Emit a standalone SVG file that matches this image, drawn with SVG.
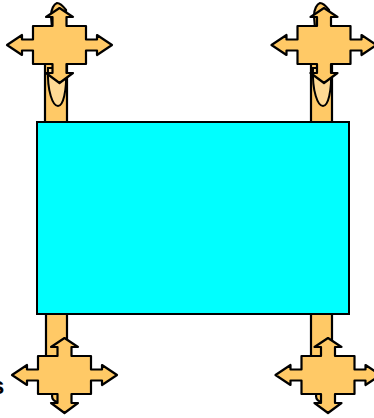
<svg xmlns="http://www.w3.org/2000/svg" width="374" height="418" viewBox="0 0 374 418">
<style>
.o{fill:#FFC966;stroke:#000;stroke-width:2.2;stroke-linejoin:round}
.u{fill:#FFDA94;stroke:#000;stroke-width:2}
.t{fill:#00FFFF;stroke:#000;stroke-width:2}
.lbl{font-family:"Liberation Sans",Arial,sans-serif;font-size:24px;font-weight:bold;fill:#000}
</style>
<defs>
<path id="cross" class="o" d="M0,-37 L13.5,-28 L7,-28 L7,-19 L26.5,-19 L26.5,-5.5 L37.5,-5.5 L37.5,-10 L52.5,0 L37.5,10 L37.5,5.5 L26.5,5.5 L26.5,19 L7,19 L7,28 L13.5,28 L0,38 L-13.5,28 L-7,28 L-7,19 L-26.5,19 L-26.5,5.5 L-37.5,5.5 L-37.5,10 L-52.5,0 L-37.5,-10 L-37.5,-5.5 L-26.5,-5.5 L-26.5,-19 L-7,-19 L-7,-28 L-13.5,-28 Z"/>
</defs>
<g id="connectors">
<rect class="o" x="45" y="60" width="22" height="62"/>
<rect class="o" x="311" y="60" width="21" height="62"/>
<rect class="o" x="46" y="314" width="21" height="50"/>
<rect class="o" x="311" y="314" width="21" height="50"/>
</g>
<g id="table">
<rect class="t" x="37" y="122" width="312" height="192"/>
</g>
<g id="cross-top-left">
<path class="u" d="M48,68 C47,92 53,106 58,106 C63,106 67,92 66,68 Z"/>
<path class="o" d="M52,28 L51,16 C51,9 54,4 57,3 C60,3 63,6 66,10 L66,28 Z"/>
<use href="#cross" x="59.5" y="45"/>
</g>
<g id="cross-top-right">
<path class="u" d="M313,68 C312,92 318,106 323,106 C328,106 332,92 331,68 Z"/>
<path class="o" d="M315,28 L314,16 C314,9 317,4 320,3 C323,3 326,6 329,10 L329,28 Z"/>
<use href="#cross" x="324" y="45"/>
</g>
<g id="cross-bottom-left">
<ellipse class="o" cx="58" cy="396" rx="6" ry="6"/>
<use href="#cross" x="64.5" y="375"/>
</g>
<g id="cross-bottom-right">
<ellipse class="o" cx="322" cy="396" rx="6" ry="6"/>
<use href="#cross" x="328" y="375"/>
</g>
<text class="lbl" x="-9" y="394">s</text>
</svg>
